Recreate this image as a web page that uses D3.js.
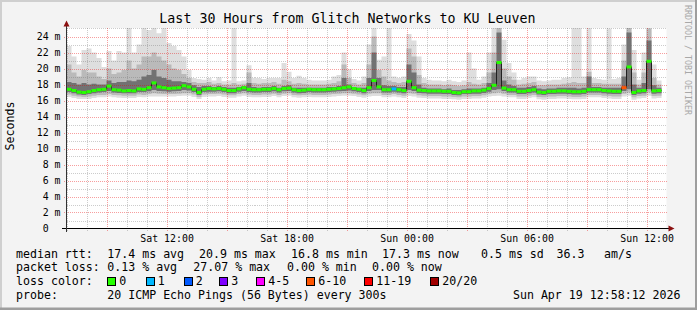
<!DOCTYPE html>
<html><head><meta charset="utf-8">
<script src="https://cdn.jsdelivr.net/npm/d3@7"></script>
<style>
html,body{margin:0;padding:0;background:#f3f3f3;}
svg{display:block;font-family:"DejaVu Sans Mono",monospace;}
</style></head><body>
<svg id="c" width="697" height="310"></svg>
<script>
// ---------- DATA (one column = 15 min) ----------
const titleText = "Last 30 Hours from Glitch Networks to KU Leuven";
const yAxisTitle = "Seconds";
const watermark = "RRDTOOL / TOBI OETIKER";
const yTickValues = [0,2,4,6,8,10,12,14,16,18,20,22,24];
const yTickLabels = ["0","2 m","4 m","6 m","8 m","10 m","12 m","14 m","16 m","18 m","20 m","22 m","24 m"];

// median RTT (ms)
const median = [
17.4,17.25,17.05,17.0,17.1,17.25,17.35,17.4,17.8,17.35,17.3,17.2,17.25,17.2,17.45,17.4,17.6,18.2,17.7,17.6,17.5,17.55,17.6,17.85,17.7,17.4,17.0,17.4,17.5,17.45,
17.5,17.4,17.25,17.25,17.45,17.6,17.4,17.35,17.35,17.4,17.4,17.5,17.35,17.5,17.55,17.35,17.25,17.3,17.4,17.35,17.35,17.35,17.4,17.45,17.5,17.6,17.7,17.5,17.4,17.25,
17.6,18.5,17.7,17.35,17.35,17.45,17.35,17.25,18.4,17.6,17.3,17.25,17.2,17.2,17.2,17.15,17.15,17.0,16.95,17.1,17.1,17.2,17.2,17.3,17.5,17.9,20.75,17.55,17.35,17.35,
17.15,17.15,17.25,17.35,17.05,17.0,17.15,17.15,17.2,17.2,17.15,17.1,17.1,17.15,17.35,17.35,17.35,17.25,17.2,17.15,17.15,17.6,20.2,17.0,17.2,17.25,20.9,17.2,17.25];
// lost pings (of 20) per column
const lostPings = [
0,0,0,0,0,0,0,0,0,0,0,0,0,0,0,0,0,0,0,0,0,0,0,0,0,0,0,0,0,0,
0,0,0,0,0,0,0,0,0,0,0,0,0,0,0,0,0,0,0,0,0,0,0,0,0,0,0,0,0,0,
0,0,0,0,0,1,0,0,0,0,0,0,0,0,0,0,0,0,0,0,0,0,0,0,0,0,0,0,0,0,
0,0,0,0,0,0,0,0,0,0,0,0,0,0,0,0,0,0,0,0,0,7,0,0,0,0,0,0,0];
// smoke: highest ping, upper of mid band, upper of dark band
const pingMax = [
22.8,21.5,20.5,22.3,22.5,22.0,21.3,20.2,22.2,21.0,22.2,22.0,25.1,22.0,23.0,25.1,24.8,25.1,24.4,25.1,23.2,22.8,22.3,21.5,19.8,18.8,18.7,18.6,18.8,18.5,
18.9,18.4,18.5,25.1,18.4,18.5,20.4,18.8,18.8,18.7,18.8,18.8,18.8,20.7,19.6,18.8,19.1,18.8,18.6,18.5,18.5,18.5,18.6,19.0,19.2,22.0,19.9,18.7,18.5,19.0,
23.0,25.1,21.1,21.5,25.1,19.0,18.8,19.0,24.3,23.5,21.5,18.8,18.6,18.5,18.5,18.4,18.6,18.4,18.3,18.5,22.0,20.0,18.6,19.0,22.0,25.1,25.1,23.6,20.7,19.5,
18.6,18.8,19.0,19.0,18.5,18.4,18.5,18.6,18.6,18.8,18.9,25.1,25.1,19.0,25.1,18.8,18.7,18.6,25.0,18.7,18.8,23.0,25.1,22.3,18.6,22.0,25.1,20.5,18.5];
const pingHighMid = [
20.5,19.5,19.0,19.8,19.5,19.5,19.0,18.7,20.0,19.3,19.5,19.8,21.0,20.0,20.5,21.5,21.5,22.0,21.5,21.0,20.5,20.0,19.8,19.3,18.8,18.3,18.2,18.2,18.3,18.1,
18.2,18.0,18.0,18.2,18.0,18.1,19.5,18.2,18.1,18.2,18.2,18.3,18.1,18.6,18.4,18.1,18.2,18.1,18.0,18.0,18.0,18.0,18.1,18.2,18.4,20.5,18.8,18.2,18.0,18.2,
20.5,24.0,19.8,19.0,18.5,18.3,18.2,18.3,22.5,21.5,19.2,18.2,18.0,18.0,18.0,17.9,18.0,17.9,17.8,17.9,18.3,18.1,18.0,18.2,19.5,22.0,25.1,20.0,19.0,18.6,
18.0,18.1,18.2,18.3,17.9,17.9,18.0,18.0,18.0,18.1,18.2,18.3,18.2,18.2,19.6,18.2,18.2,18.1,18.1,18.1,18.1,21.0,25.1,19.5,18.0,19.5,25.0,18.8,18.0];
const pingHighDark = [
18.3,18.2,18.0,18.2,18.0,18.1,18.0,18.0,18.5,18.2,18.3,18.3,18.5,18.4,18.6,19.0,19.2,19.8,19.0,18.8,18.6,18.4,18.4,18.3,18.2,17.9,17.7,17.8,17.8,17.7,
17.8,17.7,17.6,17.6,17.7,17.8,18.2,17.7,17.6,17.7,17.7,17.8,17.6,17.8,17.9,17.6,17.6,17.6,17.6,17.6,17.6,17.6,17.7,17.7,17.8,18.8,18.0,17.7,17.6,17.6,
18.8,22.0,18.8,17.9,17.8,17.8,17.7,17.7,20.5,19.5,18.0,17.6,17.5,17.5,17.5,17.4,17.5,17.3,17.3,17.4,17.5,17.5,17.5,17.6,18.2,19.5,24.5,18.5,18.0,17.8,
17.6,17.6,17.7,17.8,17.5,17.4,17.5,17.5,17.6,17.6,17.6,17.6,17.5,17.6,19.0,17.7,17.7,17.6,17.6,17.6,17.6,19.0,24.5,18.0,17.6,18.2,23.5,17.9,17.6];
// smoke: lower of dark band, lower of mid band, lowest ping
const pingLowDark = [
17.05,16.9,16.75,16.7,16.8,16.9,17.0,17.05,17.2,17.0,16.95,16.9,16.9,16.9,17.05,17.05,17.15,17.3,17.2,17.15,17.1,17.15,17.2,17.3,17.25,17.05,16.7,17.05,17.1,17.1,
17.15,17.05,16.9,16.9,17.1,17.2,17.05,17.0,17.0,17.05,17.05,17.15,17.0,17.15,17.2,17.0,16.9,16.95,17.05,17.0,17.0,17.0,17.05,17.1,17.15,17.2,17.25,17.15,17.05,16.9,
17.2,17.3,17.3,17.0,17.0,17.1,17.0,16.9,17.3,17.2,16.95,16.9,16.85,16.85,16.85,16.8,16.8,16.7,16.65,16.8,16.8,16.85,16.85,16.95,17.1,17.3,17.4,17.2,17.0,17.0,
16.8,16.8,16.9,17.0,16.75,16.7,16.8,16.8,16.85,16.85,16.8,16.75,16.75,16.8,17.0,17.0,17.0,16.9,16.85,16.8,16.8,17.2,17.4,16.7,16.85,16.9,17.4,16.85,16.9];
const pingLowMid = [
16.75,16.6,16.5,16.45,16.5,16.6,16.7,16.7,16.8,16.7,16.65,16.6,16.6,16.6,16.75,16.7,16.8,16.9,16.85,16.8,16.8,16.8,16.85,16.9,16.9,16.75,16.45,16.75,16.8,16.8,
16.85,16.75,16.65,16.65,16.8,16.9,16.75,16.7,16.7,16.75,16.75,16.85,16.7,16.85,16.9,16.7,16.65,16.7,16.75,16.7,16.7,16.7,16.75,16.8,16.85,16.9,16.9,16.85,16.75,16.65,
16.85,16.9,16.9,16.7,16.7,16.8,16.7,16.6,16.9,16.85,16.65,16.6,16.55,16.55,16.55,16.5,16.5,16.45,16.4,16.5,16.5,16.55,16.55,16.65,16.8,16.9,17.0,16.85,16.7,16.7,
16.5,16.5,16.6,16.7,16.45,16.4,16.5,16.5,16.55,16.55,16.5,16.45,16.45,16.5,16.7,16.7,16.7,16.6,16.55,16.5,16.5,16.85,17.0,16.4,16.55,16.6,17.0,16.55,16.6];
const pingMin = [
16.45,16.3,16.2,16.2,16.2,16.3,16.4,16.4,16.5,16.4,16.35,16.3,16.3,16.3,16.45,16.4,16.5,16.5,16.5,16.5,16.5,16.5,16.55,16.6,16.6,16.45,16.2,16.45,16.5,16.5,
16.55,16.45,16.35,16.35,16.5,16.6,16.45,16.4,16.4,16.45,16.45,16.55,16.4,16.55,16.6,16.4,16.35,16.4,16.45,16.4,16.4,16.4,16.45,16.5,16.55,16.6,16.6,16.55,16.45,16.35,
16.5,16.55,16.55,16.4,16.4,16.5,16.4,16.3,16.55,16.5,16.35,16.3,16.25,16.25,16.25,16.2,16.2,16.15,16.1,16.2,16.2,16.25,16.25,16.35,16.5,16.55,16.6,16.5,16.4,16.4,
16.2,16.2,16.3,16.4,16.15,16.1,16.2,16.2,16.25,16.25,16.2,16.15,16.15,16.2,16.4,16.4,16.4,16.3,16.25,16.2,16.2,16.5,16.6,16.1,16.25,16.3,16.6,16.25,16.3];

// loss colour legend
const lossLabels = ["0","1","2","3","4-5","6-10","11-19","20/20"];
const lossUpper  = [0,1,2,3,5,10,19,20];
const lossColors = ["#26ff00","#00b8ff","#0059ff","#7e00ff","#ff00ff","#ff5500","#ff0000","#a10000"];

// legend statistics
const rttLabel = "median rtt:";
const rttStats = ["17.4 ms avg","20.9 ms max","16.8 ms min","17.3 ms now","0.5 ms sd","36.3","am/s"];
const lossLabel = "packet loss:";
const lossStats = ["0.13 % avg","27.07 % max","0.00 % min","0.00 % now"];
const lossColorLabel = "loss color:";
const probeLabel = "probe:";
const probeText = "20 ICMP Echo Pings (56 Bytes) every 300s";
const stampText = "Sun Apr 19 12:58:12 2026";

// ---------- LAYOUT ----------
const W = 697, H = 310;
const plotL = 66.5, plotR = 666.5, plotT = 28, plotB = 228.5;
const tStart = new Date(2026, 3, 18, 6, 58, 12);
const tEnd   = new Date(2026, 3, 19, 12, 58, 12);
const stepMs = 15 * 60 * 1000;

const svg = d3.select("#c");
const x = d3.scaleTime().domain([tStart, tEnd]).range([plotL, plotR]);
const y = d3.scaleLinear().domain([0, 25.0625]).range([plotB, plotT]);

// canvas + 3d border
svg.append("rect").attr("width", W).attr("height", H).attr("fill", "#f3f3f3");
svg.append("rect").attr("x", 0).attr("y", 0).attr("width", W).attr("height", 2).attr("fill", "#cfcfcf");
svg.append("rect").attr("x", 0).attr("y", 0).attr("width", 2).attr("height", H).attr("fill", "#cfcfcf");
svg.append("rect").attr("x", 0).attr("y", H - 2.5).attr("width", W).attr("height", 2.5).attr("fill", "#9e9e9e");
svg.append("rect").attr("x", W - 2).attr("y", 0).attr("width", 2).attr("height", H).attr("fill", "#9e9e9e");

// plot background
svg.append("rect").attr("x", plotL).attr("y", plotT).attr("width", plotR - plotL).attr("height", plotB - plotT).attr("fill", "#ffffff");

// smoke
const n = median.length;
const idx = d3.range(n + 1);
const tAt = i => new Date(+tStart + i * stepMs);
const v = (arr, i) => arr[Math.min(i, n - 1)];
function band(lo, hi, color) {
  svg.append("path").datum(idx).attr("fill", color)
    .attr("d", d3.area().curve(d3.curveStepAfter)
      .x(i => x(tAt(i))).y0(i => y(v(lo, i))).y1(i => y(Math.min(v(hi, i), 25.0625))));
}
band(pingMin, pingMax, "#dedede");
band(pingLowMid, pingHighMid, "#bababa");
band(pingLowDark, pingHighDark, "#727272");

// grid
const gGrid = svg.append("g").attr("shape-rendering", "crispEdges");
const minorCol = "rgba(110,110,110,0.35)", majorCol = "rgba(235,0,0,0.38)";
d3.range(1, 26, 2).forEach(val => {
  gGrid.append("line").attr("x1", plotL).attr("x2", plotR).attr("y1", Math.round(y(val)) + 0.5).attr("y2", Math.round(y(val)) + 0.5)
    .attr("stroke", minorCol).attr("stroke-dasharray", "1,1");
});
yTickValues.forEach(val => {
  if (val === 0) return;
  gGrid.append("line").attr("x1", plotL - 3).attr("x2", plotR).attr("y1", Math.round(y(val)) + 0.5).attr("y2", Math.round(y(val)) + 0.5)
    .attr("stroke", majorCol).attr("stroke-dasharray", "1,1");
});
const hours = d3.timeHour.range(tStart, tEnd);
hours.forEach(h => {
  const major = h.getHours() % 3 === 0;
  const xx = Math.round(x(h)) + 0.5;
  gGrid.append("line").attr("x1", xx).attr("x2", xx).attr("y1", plotT).attr("y2", plotB + 3)
    .attr("stroke", major ? majorCol : minorCol).attr("stroke-dasharray", "1,1");
});

// median line (black step) + loss-coloured band
svg.append("path").datum(idx).attr("fill", "none").attr("stroke", "#202020").attr("stroke-width", 1)
  .attr("d", d3.line().curve(d3.curveStepAfter).x(i => x(tAt(i))).y(i => y(v(median, i))));
const lossColor = c => lossColors[lossUpper.findIndex(u => c <= u)];
svg.append("g").selectAll("rect").data(d3.range(n)).join("rect")
  .attr("x", i => x(tAt(i))).attr("width", i => x(tAt(i + 1)) - x(tAt(i)))
  .attr("y", i => y(median[i]) - 1.5).attr("height", 3)
  .attr("fill", i => lossColor(lostPings[i]));

// axes
svg.append("line").attr("x1", 62).attr("x2", 669).attr("y1", plotB).attr("y2", plotB).attr("stroke", "#000").attr("shape-rendering", "crispEdges");
svg.append("line").attr("x1", plotL).attr("x2", plotL).attr("y1", plotB + 3).attr("y2", 25).attr("stroke", "#333").attr("shape-rendering", "crispEdges");
svg.append("path").attr("d", `M${plotL - 3},26.5L${plotL},20.5L${plotL + 3},26.5Z`).attr("fill", "#8b1010");
svg.append("path").attr("d", `M668.5,${plotB - 3}L674.5,${plotB}L668.5,${plotB + 3}Z`).attr("fill", "#8b1010");

// y tick labels
const tickFont = 9.9, cwTick = tickFont * 0.602;
svg.append("g").selectAll("text").data(yTickValues).join("text")
  .attr("x", (d, i) => yTickLabels[i].length === 1 ? 60.5 - 2 * cwTick : 60.5)
  .attr("y", d => y(d) + 3.6)
  .attr("text-anchor", "end").attr("font-size", tickFont).attr("fill", "#000")
  .text((d, i) => yTickLabels[i]);

// x tick labels
const labelHours = d3.timeHour.every(6).range(tStart, tEnd);
const fmt = d3.timeFormat("%a %H:%M");
svg.append("g").selectAll("text").data(labelHours).join("text")
  .attr("x", d => x(d)).attr("y", 241.5)
  .attr("text-anchor", "middle").attr("font-size", tickFont).attr("fill", "#000")
  .text(d => fmt(d));

// title, y title, watermark
svg.append("text").attr("x", 347.5).attr("y", 23).attr("text-anchor", "middle")
  .attr("font-size", 13.3).attr("fill", "#000").text(titleText);
svg.append("text").attr("transform", "translate(13.5,126) rotate(-90)").attr("text-anchor", "middle")
  .attr("font-size", 11.6).attr("fill", "#000").text(yAxisTitle);
svg.append("text").attr("transform", "translate(684.5,60) rotate(90)").attr("text-anchor", "middle")
  .attr("font-size", 8.3).attr("fill", "#a8a8a8").text(watermark);

// legend
const lf = 11.6;
const lg = svg.append("g").attr("font-size", lf).attr("fill", "#000").style("white-space", "pre");
const row = [257.5, 271.4, 285.2, 299];
lg.append("text").attr("x", 16).attr("y", row[0]).text(rttLabel);
const rttX = [107.3, 199, 291, 382, 481, 556.5, 604];
rttStats.forEach((s, i) => lg.append("text").attr("x", rttX[i]).attr("y", row[0]).text(s));
lg.append("text").attr("x", 16).attr("y", row[1]).text(lossLabel);
const lossX = [107.3, 193.3, 287, 372];
lossStats.forEach((s, i) => lg.append("text").attr("x", lossX[i]).attr("y", row[1]).text(s));
lg.append("text").attr("x", 16).attr("y", row[2]).text(lossColorLabel);
const boxX = [107.5, 146, 184, 219.5, 256.5, 306.5, 364.5, 430.5];
lossLabels.forEach((s, i) => {
  lg.append("rect").attr("x", boxX[i]).attr("y", row[2] - 8).attr("width", 8).attr("height", 8)
    .attr("fill", lossColors[i]).attr("stroke", "#000").attr("stroke-width", 1).attr("shape-rendering", "crispEdges");
  lg.append("text").attr("x", boxX[i] + 11.8).attr("y", row[2]).text(s);
});
lg.append("text").attr("x", 16).attr("y", row[3]).text(probeLabel);
lg.append("text").attr("x", 107.3).attr("y", row[3]).text(probeText);
lg.append("text").attr("x", 680.5).attr("y", row[3]).attr("text-anchor", "end").text(stampText);
</script>
</body></html>
